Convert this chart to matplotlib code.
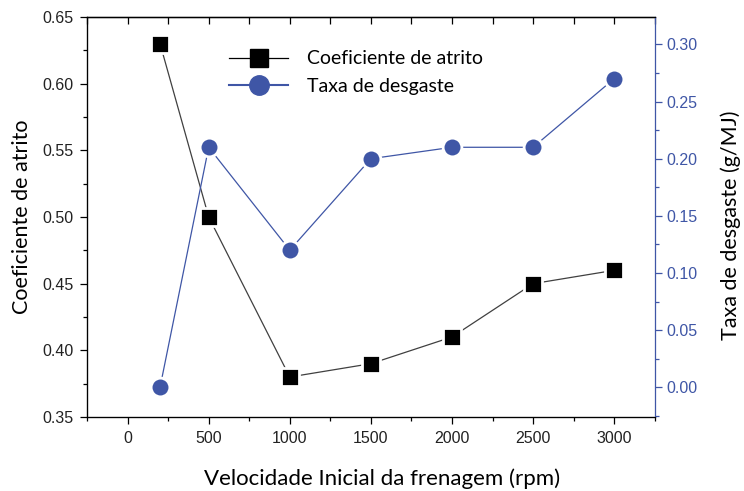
import matplotlib
matplotlib.use("Agg")
import matplotlib.pyplot as plt
from matplotlib.ticker import MultipleLocator
from matplotlib.lines import Line2D

# dados
velocidade = [200, 500, 1000, 1500, 2000, 2500, 3000]
coef_atrito = [0.63, 0.50, 0.38, 0.39, 0.41, 0.45, 0.46]
taxa_desgaste = [0.00, 0.21, 0.12, 0.20, 0.21, 0.21, 0.27]

azul = "#3f56a6"
tick_font = "Liberation Sans"
label_font = "Lato"

fig = plt.figure(figsize=(7.44, 4.91), dpi=100)
ax = fig.add_axes([0.117, 0.1507, 0.763, 0.8147])
ax2 = ax.twinx()

ax.plot(velocidade, coef_atrito, "-", color="#404040", lw=0.9, marker="s", ms=13,
        mfc="black", mec="white", mew=2.0, zorder=3)
ax2.plot(velocidade, taxa_desgaste, "-", color=azul, lw=0.9, marker="o", ms=13.5,
         mfc=azul, mec="white", mew=2.0, zorder=3)

ax.set_xlim(-250, 3250)
ax.set_ylim(0.35, 0.65)
ax2.set_ylim(-0.026, 0.324)

ax.xaxis.set_major_locator(MultipleLocator(500))
ax.xaxis.set_minor_locator(MultipleLocator(250))
ax.yaxis.set_major_locator(MultipleLocator(0.05))
ax.yaxis.set_minor_locator(MultipleLocator(0.025))
ax2.yaxis.set_major_locator(MultipleLocator(0.05))
ax2.yaxis.set_minor_locator(MultipleLocator(0.025))

ax.set_xticks([0, 500, 1000, 1500, 2000, 2500, 3000])
ax.set_xticklabels(["0", "500", "1000", "1500", "2000", "2500", "3000"])
ax.set_yticks([0.35, 0.40, 0.45, 0.50, 0.55, 0.60, 0.65])
ax.set_yticklabels(["0.35", "0.40", "0.45", "0.50", "0.55", "0.60", "0.65"])
ax2.set_yticks([0.00, 0.05, 0.10, 0.15, 0.20, 0.25, 0.30])
ax2.set_yticklabels(["0.00", "0.05", "0.10", "0.15", "0.20", "0.25", "0.30"])

ax.tick_params(axis="both", which="major", direction="out", length=5, width=0.9,
               labelsize=11.5, pad=5)
ax.tick_params(axis="both", which="minor", direction="out", length=3, width=0.9)
ax.tick_params(axis="x", which="both", top=False)
for t in ax.get_xticklabels() + ax.get_yticklabels():
    t.set_fontfamily(tick_font)
    t.set_color("#222222")

ax2.tick_params(axis="y", which="major", direction="out", length=5, width=0.9,
                labelsize=11.5, colors=azul)
ax2.tick_params(axis="y", which="minor", direction="out", length=3, width=0.9, colors=azul)
for t in ax2.get_yticklabels():
    t.set_fontfamily(tick_font)

# ticks do topo apontam para dentro
topo = ax.secondary_xaxis("top")
topo.xaxis.set_major_locator(MultipleLocator(500))
topo.xaxis.set_minor_locator(MultipleLocator(250))
topo.tick_params(axis="x", which="major", direction="in", length=5, width=0.9, labeltop=False)
topo.tick_params(axis="x", which="minor", direction="in", length=5, width=0.9)
topo.spines["top"].set_linewidth(0.9)

for s in ["left", "bottom", "top"]:
    ax.spines[s].set_linewidth(0.9)
ax2.spines["right"].set_color(azul)
ax2.spines["right"].set_linewidth(0.9)
ax.spines["right"].set_visible(False)

ax.set_xlabel("Velocidade Inicial da frenagem (rpm)", fontfamily=label_font,
              fontsize=16, labelpad=16)
ax.xaxis.set_label_coords(0.52, -0.128)
ax.set_ylabel("Coeficiente de atrito", fontfamily=label_font, fontsize=15.5, labelpad=7)
ax2.set_ylabel("Taxa de desgaste (g/MJ)", fontfamily=label_font, fontsize=15.5)
ax2.yaxis.set_label_coords(1.115, 0.48)

handles = [
    Line2D([], [], color="black", lw=0.9, marker="s", ms=13, mfc="black", mec="black"),
    Line2D([], [], color=azul, lw=1.5, marker="o", ms=14, mfc=azul, mec=azul),
]
ax.legend(handles, ["Coeficiente de atrito", "Taxa de desgaste"], loc="upper left",
          bbox_to_anchor=(0.22, 0.96), frameon=False, handlelength=3.0,
          prop={"family": label_font, "size": 14}, labelspacing=0.55, handletextpad=1.0)

fig.savefig("out.png", dpi=100)
